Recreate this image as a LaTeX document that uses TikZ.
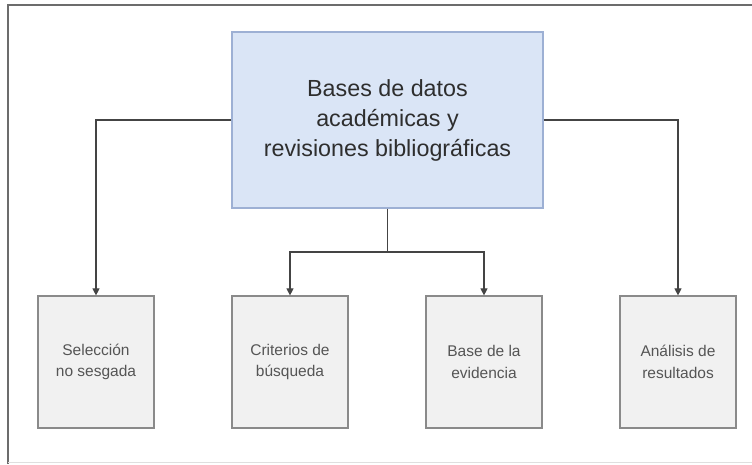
\documentclass[tikz,border=0pt]{standalone}
\usepackage{fontspec}
\setmainfont{Liberation Sans}
\usetikzlibrary{arrows.meta}
\definecolor{mainfill}{HTML}{DAE5F6}
\definecolor{mainborder}{HTML}{9DB0D4}
\definecolor{subfill}{HTML}{F1F1F1}
\definecolor{subborder}{HTML}{8A8A8A}
\definecolor{linecol}{HTML}{444444}
\definecolor{maintext}{HTML}{2E2E2E}
\definecolor{subtext}{HTML}{555555}
\begin{document}
\begin{tikzpicture}[x=1pt,y=-1pt,
  mainbox/.style={draw=mainborder,fill=mainfill,line width=1.2pt,minimum width=311pt,minimum height=176pt,inner sep=0pt,
    align=center,text=maintext,font=\fontsize{23.3}{30}\selectfont},
  subbox/.style={draw=subborder,fill=subfill,line width=1.2pt,minimum width=116pt,minimum height=132pt,inner sep=0pt,
    align=center,text=subtext,font=\fontsize{15.5}{21.5}\selectfont},
  conn/.style={draw=linecol,line width=1.1pt,-{Triangle[length=7pt,width=7pt]}},
  plain/.style={draw=linecol,line width=1.1pt}]
\useasboundingbox (0,0) rectangle (752,464);
\fill[white] (0,0) rectangle (752,464);
% frame
\draw[draw=gray!85!black,line width=1.5pt] (8,464) -- (8,5) -- (752,5);
\draw[draw=gray!25,line width=0.8pt] (8,462) -- (752,462);
% nodes
\node[mainbox] (main) at (387.5,120) {Bases de datos\\acadé{}micas y\\revisiones bibliográficas};
\node[subbox] (s1) at (96,362) {Selección\\no sesgada};
\node[subbox] (s2) at (290,362) {Criterios de\\búsqueda};
\node[subbox] (s3) at (484,362) {Base de la\\evidencia};
\node[subbox] (s4) at (678,362) {Análisis de\\resultados};
\coordinate (split) at (387.5,252);
% connectors
\draw[conn] (main.west) -| (s1.north);
\draw[conn] (main.east) -| (s4.north);
\draw[plain] (main.south) -- (split);
\draw[conn] (split) -| (s2.north);
\draw[conn] (split) -| (s3.north);
\end{tikzpicture}
\end{document}
